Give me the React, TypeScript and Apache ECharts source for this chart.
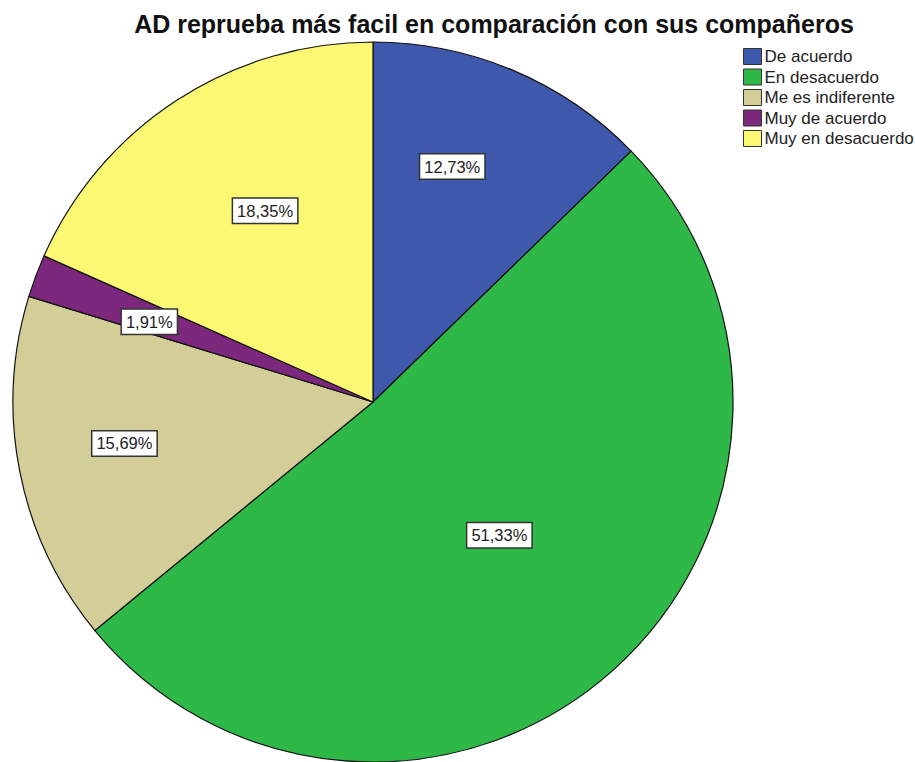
import React, { useEffect, useRef } from "react";
import * as echarts from "echarts";

const title = "AD reprueba más facil en comparación con sus compañeros";
const categories = ["De acuerdo", "En desacuerdo", "Me es indiferente", "Muy de acuerdo", "Muy en desacuerdo"];
const values = [12.73, 51.33, 15.69, 1.91, 18.35];
const colors = ["#3E58AC", "#2EB848", "#D3CE97", "#7C287D", "#FBF873"];
// label placement (fraction of radius, angle shift in degrees)
const labelRadius = [0.69, 0.51, 0.7, 0.66, 0.61];
const labelShift = [-4.3, -1.7, 1.7, -0.8, 3.6];

const CX = 373;
const CY = 402;
const R = 360;

export default function App() {
  const ref = useRef<HTMLDivElement>(null);
  useEffect(() => {
    if (!ref.current) return;
    const chart = echarts.init(ref.current, null, { renderer: "svg" });
    const total = values.reduce((a, b) => a + b, 0);
    const cum: number[] = [];
    let acc = 0;
    values.forEach((v) => {
      cum.push(acc);
      acc += v;
    });
    chart.setOption({
      animation: false,
      backgroundColor: "#ffffff",
      title: {
        text: title,
        left: 489,
        top: 6,
        textAlign: "center",
        textStyle: { fontFamily: "Liberation Sans", fontWeight: "bold", fontSize: 25, color: "#111" },
      },
      legend: {
        orient: "vertical",
        left: 738,
        top: 43,
        itemWidth: 18,
        itemHeight: 16,
        itemGap: 3.5,
        icon: "rect",
        textStyle: { fontFamily: "Liberation Sans", fontSize: 17, lineHeight: 16, color: "#222", padding: [0, 0, 0, -2] },
        itemStyle: { borderColor: "#333", borderWidth: 1 },
        data: categories,
      },
      series: [
        {
          type: "pie",
          center: [CX, CY],
          radius: R,
          startAngle: 90,
          clockwise: true,
          avoidLabelOverlap: false,
          itemStyle: { borderColor: "#111", borderWidth: 1.2 },
          label: {
            show: true,
            position: "inside",
            formatter: (p: any) => p.value.toFixed(2).replace(".", ",") + "%",
            fontFamily: "Liberation Sans",
            fontSize: 16.5,
            color: "#222",
            backgroundColor: "#ffffff",
            borderColor: "#333",
            borderWidth: 1.5,
            padding: [4, 4, 3, 4],
          },
          labelLine: { show: false },
          labelLayout: (params: any) => {
            const i = params.dataIndex;
            const midFrac = (cum[i] + values[i] / 2) / total;
            const ang = ((midFrac * 360 + labelShift[i]) * Math.PI) / 180;
            const r = labelRadius[i] * R;
            return {
              x: CX + r * Math.sin(ang),
              y: CY - r * Math.cos(ang),
              align: "center",
              verticalAlign: "middle",
            };
          },
          emphasis: { disabled: true },
          data: categories.map((name, i) => ({ name, value: values[i], itemStyle: { color: colors[i] } })),
        },
      ],
    });
    return () => chart.dispose();
  }, []);
  return <div ref={ref} style={{ position: "fixed", left: 0, top: 0, width: 915, height: 762 }} />;
}
